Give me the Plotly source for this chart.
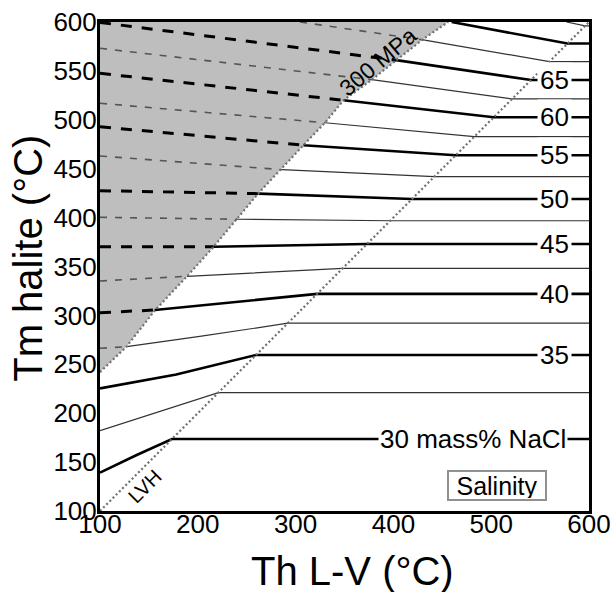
import plotly.graph_objects as go

# ---------------- data ----------------
salinity = [30, 32.5, 35, 37.5, 40, 42.5, 45, 47.5, 50, 52.5, 55, 57.5, 60, 62.5, 65, 67.5, 70, 72.5]
line_x = [
    [100, 137, 173.6, 600],
    [100, 221, 600],
    [100, 178, 259.5, 600],
    [100, 127.3, 202, 292, 600],
    [100, 156, 322, 600],
    [100, 189, 348, 600],
    [100, 216, 373, 600],
    [100, 241, 396.8, 600],
    [100, 262, 419, 600],
    [100, 286, 441.8, 600],
    [100, 308, 463.7, 600],
    [100, 330, 482.7, 600],
    [100, 349, 502.6, 600],
    [100, 378, 521.3, 600],
    [100, 403, 540.7, 600],
    [304.5, 396.5, 432, 559.5, 600],
    [459.6, 578, 600],
    [577, 596, 600],
]
line_y = [
    [139.2, 157, 173.6, 173.6],
    [182.1, 221, 221],
    [225.4, 239.5, 259.5, 259.5],
    [266.4, 268, 278.5, 292, 292],
    [302.8, 305.5, 322, 322],
    [335.2, 340, 348, 348],
    [370.2, 370.2, 373, 373],
    [400.3, 398.3, 396.8, 396.8],
    [427.5, 424.5, 419, 419],
    [463, 449, 441.8, 441.8],
    [492.9, 474, 463.7, 463.7],
    [516.9, 497, 482.7, 482.7],
    [547.5, 520, 502.6, 502.6],
    [573.1, 541, 521.3, 521.3],
    [599.5, 561, 540.7, 540.7],
    [600, 586.3, 581.5, 559.5, 559.5],
    [600, 578, 578],
    [600, 596, 596],
]
# index of the vertex where each line crosses the 300 MPa isochore (0 = no dashed part)
cross_idx = [0, 0, 0, 1, 1, 1, 1, 1, 1, 1, 1, 1, 1, 1, 1, 2, 0, 0]

mpa_x = [100, 127, 156, 189, 216, 262, 308, 330, 349, 378, 403, 431, 456]
mpa_y = [242, 268, 305, 340, 370, 425, 474, 497, 520, 541, 561, 583, 600]

lvh_x = [100, 600]
lvh_y = [100, 600]

label_sal = [30, 35, 40, 45, 50, 55, 60, 65]
label_text = ["30 mass% NaCl", "35", "40", "45", "50", "55", "60", "65"]

x_ticks = [100, 200, 300, 400, 500, 600]
y_ticks = [100, 150, 200, 250, 300, 350, 400, 450, 500, 550, 600]

# ---------------- figure ----------------
FONT = "Liberation Sans, Arial, Helvetica, sans-serif"
fig = go.Figure()

# shaded region above the 300 MPa isochore
fig.add_trace(go.Scatter(
    x=mpa_x + [mpa_x[0]], y=mpa_y + [mpa_y[-1]],
    fill="toself", fillcolor="#bebebe", mode="lines",
    line=dict(width=0, color="#bebebe"), hoverinfo="skip", showlegend=False))

for s, xs, ys, k in zip(salinity, line_x, line_y, cross_idx):
    thick = (s % 5 == 0)
    if k > 0:
        fig.add_trace(go.Scatter(
            x=xs[:k + 1], y=ys[:k + 1], mode="lines", showlegend=False,
            line=dict(color="#000" if thick else "#555",
                      width=3 if thick else 1.6,
                      dash="11px,10px" if thick else "7px,8px")))
    fig.add_trace(go.Scatter(
        x=xs[k:], y=ys[k:], mode="lines", showlegend=False,
        line=dict(color="#000" if thick else "#333", width=2.6 if thick else 1.2)))

# dotted boundary lines
for xs, ys in [(mpa_x, mpa_y), (lvh_x, lvh_y)]:
    fig.add_trace(go.Scatter(
        x=xs, y=ys, mode="lines", showlegend=False,
        line=dict(color="#707070", width=2.2, dash="2px,2.5px")))

# salinity labels
for s, t in zip(label_sal, label_text):
    yv = line_y[salinity.index(s)][-1]
    if len(t) > 3:
        fig.add_annotation(x=579, y=yv, text=t, xanchor="right", yanchor="middle",
                           showarrow=False, bgcolor="white", borderpad=1,
                           font=dict(family=FONT, size=26, color="#000"))
    else:
        fig.add_annotation(x=565, y=yv, text=t, xanchor="center", yanchor="middle",
                           showarrow=False, bgcolor="white", borderpad=2,
                           font=dict(family=FONT, size=26, color="#000"))

fig.add_annotation(x=505.6, y=126.3, text="Salinity", showarrow=False,
                   xanchor="center", yanchor="middle", width=94, height=25,
                   bordercolor="#909090", borderwidth=2, borderpad=1, bgcolor="white",
                   font=dict(family=FONT, size=25, color="#000"))
fig.add_annotation(x=384, y=559, text="300 MPa", showarrow=False, textangle=-40,
                   font=dict(family=FONT, size=23, color="#000"))
fig.add_annotation(x=145, y=125, text="LVH", showarrow=False, textangle=-45,
                   font=dict(family=FONT, size=20, color="#000"))

# axis titles
fig.add_annotation(xref="paper", yref="paper", x=0.517, y=-0.122, text="Th L-V (°C)",
                   showarrow=False, xanchor="center", yanchor="middle",
                   font=dict(family=FONT, size=40, color="#000"))
fig.add_annotation(xref="paper", yref="paper", x=-0.147, y=0.516, text="Tm halite (°C)",
                   showarrow=False, xanchor="center", yanchor="middle", textangle=-90,
                   font=dict(family=FONT, size=40, color="#000"))

axis_common = dict(showgrid=False, zeroline=False, showline=True, linecolor="#000",
                   linewidth=3, mirror=True, ticks="", automargin=False,
                   tickfont=dict(family=FONT, size=26, color="#000"))
fig.update_xaxes(range=[100, 600], tickvals=x_ticks, ticklabelstandoff=-12, **axis_common)
fig.update_yaxes(range=[100, 600], tickvals=y_ticks, ticklabelstandoff=-5, **axis_common)

fig.update_layout(width=613, height=592, autosize=False,
                  margin=dict(l=100, r=24, t=22, b=81),
                  plot_bgcolor="white", paper_bgcolor="white",
                  showlegend=False)

fig.write_html("out.html", config={"displayModeBar": False},
               post_script="document.body.style.margin='0';document.body.style.overflow='hidden';")
